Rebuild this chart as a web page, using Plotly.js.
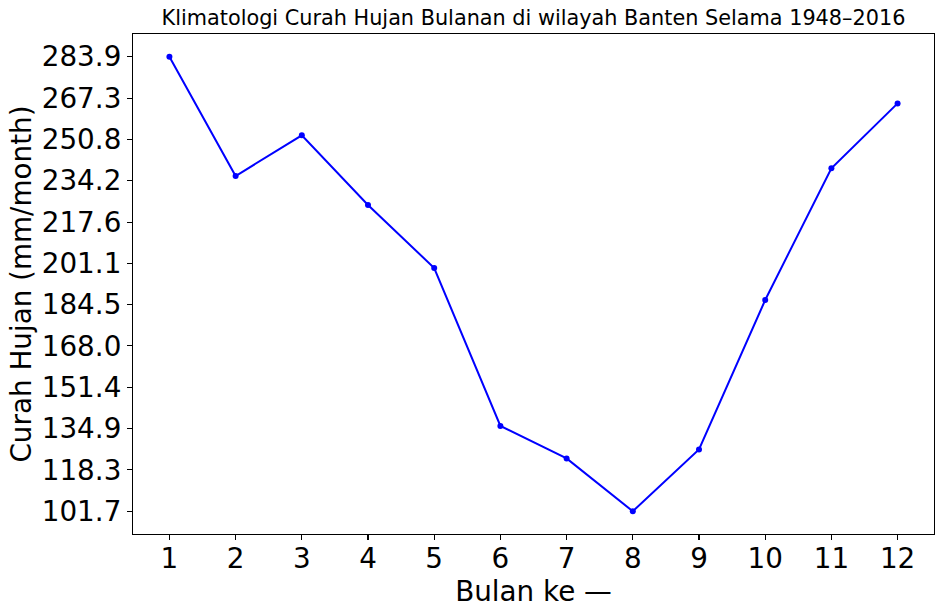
<!DOCTYPE html>
<html>
<head>
<meta charset="utf-8">
<script src="https://cdn.plot.ly/plotly-3.0.1.min.js"></script>
<style>
  html, body { margin: 0; padding: 0; background: #fff; }
  #chart { width: 942px; height: 615px; }
</style>
</head>
<body>
<div id="chart"></div>
<script>
const months = [1, 2, 3, 4, 5, 6, 7, 8, 9, 10, 11, 12];
const rainfall = [283.9, 236.1, 252.4, 224.5, 199.2, 135.9, 122.9, 101.7, 126.5, 186.4, 239.2, 265.2];
const yTickLabels = ["101.7", "118.3", "134.9", "151.4", "168.0", "184.5", "201.1", "217.6", "234.2", "250.8", "267.3", "283.9"];
const xTickLabels = ["1", "2", "3", "4", "5", "6", "7", "8", "9", "10", "11", "12"];

const yMin = Math.min(...rainfall), yMax = Math.max(...rainfall);
const yPad = (yMax - yMin) * 0.05;
const xMin = Math.min(...months), xMax = Math.max(...months);
const xPad = (xMax - xMin) * 0.05;

const font = "DejaVu Sans, sans-serif";

const trace = {
  x: months,
  y: rainfall,
  type: "scatter",
  mode: "lines+markers",
  line: { color: "#0000ff", width: 2 },
  marker: { color: "#0000ff", size: 6 },
  hoverinfo: "skip"
};

const layout = {
  width: 942,
  height: 615,
  margin: { l: 133, r: 8, t: 34, b: 81, pad: 0 },
  paper_bgcolor: "#ffffff",
  plot_bgcolor: "#ffffff",
  showlegend: false,
  font: { family: font, color: "#000000" },
  title: {
    text: "Klimatologi Curah Hujan Bulanan di wilayah Banten Selama 1948–2016",
    font: { family: font, size: 20.8, color: "#000000" },
    x: 0.5, xanchor: "center", xref: "paper",
    y: 1 - 18 / 615, yanchor: "middle", yref: "container"
  },
  xaxis: {
    range: [xMin - xPad, xMax + xPad],
    tickmode: "array",
    tickvals: months,
    ticktext: xTickLabels,
    ticks: "outside",
    ticklen: 5,
    tickwidth: 1.1,
    tickcolor: "#000",
    ticklabelstandoff: -5,
    tickfont: { family: font, size: 27.8, color: "#000" },
    showgrid: false,
    zeroline: false,
    showline: true,
    linecolor: "#000",
    linewidth: 1.1,
    mirror: true,
    title: { text: "Bulan ke —", font: { family: font, size: 27.8, color: "#000" }, standoff: 0 }
  },
  yaxis: {
    range: [yMin - yPad, yMax + yPad],
    tickmode: "array",
    tickvals: yTickLabels.map(Number),
    ticktext: yTickLabels,
    ticks: "outside",
    ticklen: 5,
    tickwidth: 1.1,
    tickcolor: "#000",
    tickfont: { family: font, size: 27.8, color: "#000" },
    showgrid: false,
    zeroline: false,
    showline: true,
    linecolor: "#000",
    linewidth: 1.1,
    mirror: true,
    title: { text: "Curah Hujan (mm/month)", font: { family: font, size: 27.8, color: "#000" }, standoff: 2 }
  }
};

Plotly.newPlot("chart", [trace], layout, { displayModeBar: false, staticPlot: true });
</script>
</body>
</html>
